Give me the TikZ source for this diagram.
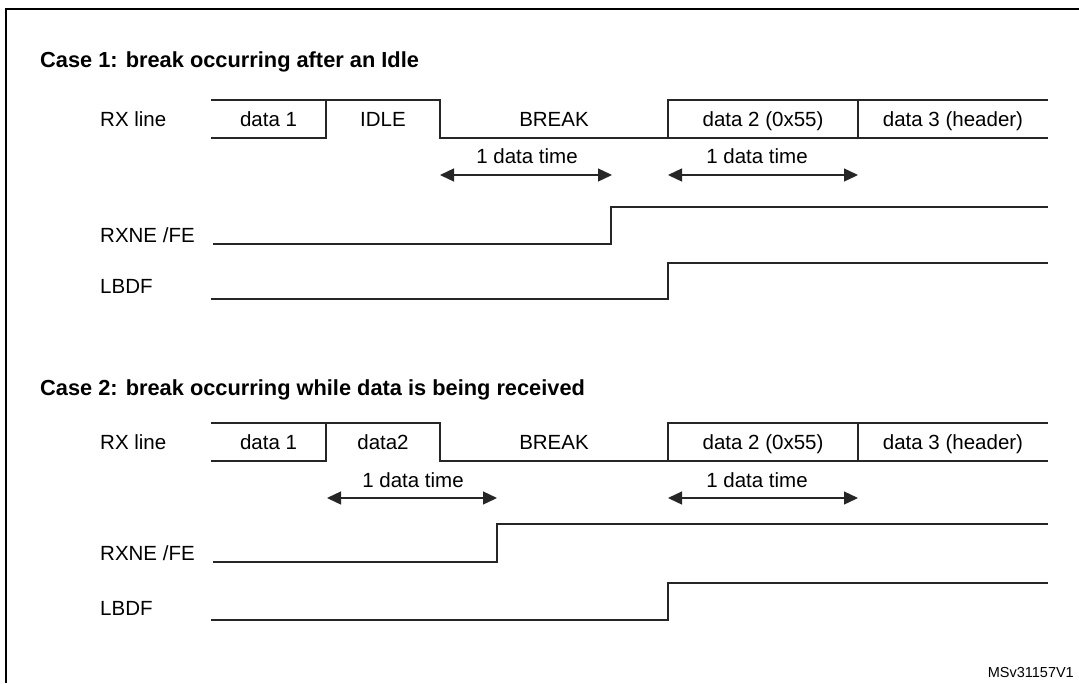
\documentclass[tikz,border=0pt]{standalone}
\usepackage{fontspec}
\setmainfont{Liberation Sans}
\usetikzlibrary{arrows.meta}
\begin{document}
\begin{tikzpicture}[x=1pt,y=-1pt,
  sig/.style={line width=1.3pt, draw=black!85, line join=miter},
  lbl/.style={font=\fontsize{20.5}{24}\selectfont, inner sep=0pt},
  head/.style={font=\bfseries\fontsize{21.8}{25}\selectfont, inner sep=0pt},
  dt/.style={line width=1.3pt, draw=black!85, {Triangle[length=14pt,width=13pt]}-{Triangle[length=14pt,width=13pt]}}]
\useasboundingbox (0,0) rectangle (1079,683);
% frame
\coordinate (fTL) at (6,9);
\coordinate (fTR) at (1079,9);
\coordinate (fBL) at (6,683);
\draw[line width=2.4pt] (fBL) -- (fTL) -- (fTR);

% ================= Case 1 =================
\node[head, anchor=base west] (h1) at (40,67) {Case 1: break occurring after an Idle};
\node[lbl, anchor=base west] (rx1) at (100,126) {RX line};
\node[lbl, anchor=base west] (rxne1) at (100,242) {RXNE /FE};
\node[lbl, anchor=base west] (lbdf1) at (100,293) {LBDF};
% RX line
\draw[sig] (211,100) -- (440,100) -- (440,138) -- (668,138) -- (668,100) -- (1048,100);
\draw[sig] (211,138) -- (326,138) -- (326,100);
\draw[sig] (668,138) -- (1048,138);
\draw[sig] (858,100) -- (858,138);
\node[lbl, anchor=base] (d11) at (268.5,126) {data 1};
\node[lbl, anchor=base] (idle1) at (383,126) {IDLE};
\node[lbl, anchor=base] (brk1) at (554,126) {BREAK};
\node[lbl, anchor=base] (d21) at (763,126) {data 2 (0x55)};
\node[lbl, anchor=base] (d31) at (953,126) {data 3 (header)};
% data time arrows
\coordinate (a1s) at (440,175);
\coordinate (a1e) at (612,175);
\coordinate (b1s) at (668,175);
\coordinate (b1e) at (858,175);
\draw[dt] (a1s) -- (a1e);
\draw[dt] (b1s) -- (b1e);
\node[lbl, anchor=base] (t1a) at (527,163) {1 data time};
\node[lbl, anchor=base] (t1b) at (757,163) {1 data time};
% RXNE/FE
\draw[sig] (213,244) -- (611,244) -- (611,207) -- (1048,207);
% LBDF
\draw[sig] (211,299) -- (668,299) -- (668,263) -- (1048,263);

% ================= Case 2 =================
\node[head, anchor=base west] (h2) at (40,395) {Case 2: break occurring while data is being received};
\node[lbl, anchor=base west] (rx2) at (100,449) {RX line};
\node[lbl, anchor=base west] (rxne2) at (100,560) {RXNE /FE};
\node[lbl, anchor=base west] (lbdf2) at (100,615) {LBDF};
% RX line
\draw[sig] (211,423) -- (440,423) -- (440,461) -- (668,461) -- (668,423) -- (1048,423);
\draw[sig] (211,461) -- (326,461) -- (326,423);
\draw[sig] (668,461) -- (1048,461);
\draw[sig] (858,423) -- (858,461);
\node[lbl, anchor=base] (d12) at (268.5,449) {data 1};
\node[lbl, anchor=base] (d22a) at (383,449) {data2};
\node[lbl, anchor=base] (brk2) at (554,449) {BREAK};
\node[lbl, anchor=base] (d22) at (763,449) {data 2 (0x55)};
\node[lbl, anchor=base] (d32) at (953,449) {data 3 (header)};
% data time arrows
\coordinate (a2s) at (327,498);
\coordinate (a2e) at (497,498);
\coordinate (b2s) at (668,498);
\coordinate (b2e) at (858,498);
\draw[dt] (a2s) -- (a2e);
\draw[dt] (b2s) -- (b2e);
\node[lbl, anchor=base] (t2a) at (413,487) {1 data time};
\node[lbl, anchor=base] (t2b) at (757,487) {1 data time};
% RXNE/FE
\draw[sig] (213,562) -- (497,562) -- (497,524) -- (1048,524);
% LBDF
\draw[sig] (211,620) -- (668,620) -- (668,583) -- (1048,583);

\node[font=\fontsize{14.5}{17}\selectfont, inner sep=0pt, anchor=base east] (id) at (1074,677) {MSv31157V1};
\end{tikzpicture}
\end{document}
